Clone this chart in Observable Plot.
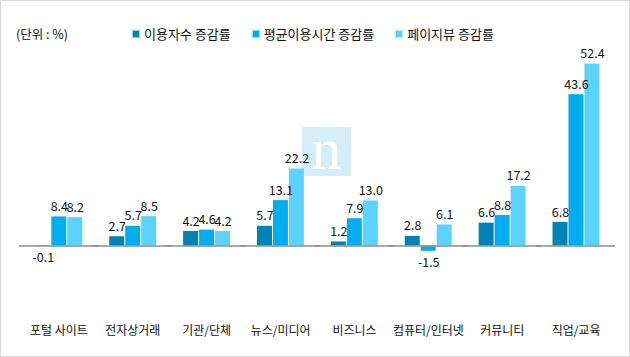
<!DOCTYPE html>
<html>
<head>
<meta charset="utf-8">
<script src="https://cdn.jsdelivr.net/npm/d3@7"></script>
<script src="https://cdn.jsdelivr.net/npm/@observablehq/plot@0.6"></script>
<style>
  html, body { margin: 0; padding: 0; background: #fff; }
  #wrap { position: relative; width: 630px; height: 357px; box-sizing: border-box; border: 1px solid #d9d9d9; overflow: hidden; font-family: "Noto Sans CJK KR", "Noto Sans", sans-serif; background: #fff; }
  #chart { position: absolute; left: -1px; top: -1px; }
  #unit { position: absolute; left: 15px; top: 23px; font-size: 12.5px; color: #111; line-height: 20px; }
  #legend { position: absolute; left: 131px; top: 23px; display: flex; gap: 21px; font-size: 13px; color: #111; line-height: 20px; }
  #legend .item { display: flex; align-items: center; gap: 4px; }
  #legend .sw { width: 6px; height: 6px; border: 1px solid rgba(255,255,255,0.6); outline: 1px solid rgba(0,0,0,0.06); }
  #mark { position: absolute; left: 301px; top: 126px; width: 49px; height: 49px; background: #d6eefa; color: #fff; font-family: "Liberation Serif", "DejaVu Serif", serif; font-size: 60px; line-height: 44px; text-align: center; }
</style>
</head>
<body>
<div id="wrap">
  <div id="mark">n</div>
  <div id="chart"></div>
  <div id="unit">(단위 : %)</div>
  <div id="legend"></div>
</div>
<script>
const categories = ["포털 사이트", "전자상거래", "기관/단체", "뉴스/미디어", "비즈니스", "컴퓨터/인터넷", "커뮤니티", "직업/교육"];
const series = ["이용자수 증감률", "평균이용시간 증감률", "페이지뷰 증감률"];
const usersGrowth = [-0.1, 2.7, 4.2, 5.7, 1.2, 2.8, 6.6, 6.8];
const timeGrowth = [8.4, 5.7, 4.6, 13.1, 7.9, -1.5, 8.8, 43.6];
const pageviewGrowth = [8.2, 8.5, 4.2, 22.2, 13.0, 6.1, 17.2, 52.4];
const colors = ["#0082b4", "#00aeef", "#5cd2ff"];

const valuesBySeries = [usersGrowth, timeGrowth, pageviewGrowth];
const rows = [];
categories.forEach((c, i) => {
  series.forEach((s, j) => rows.push({category: c, series: s, value: valuesBySeries[j][i]}));
});

const chart = Plot.plot({
  width: 630,
  height: 357,
  marginTop: 37.3,
  marginBottom: 76.2,
  marginLeft: 18.6,
  marginRight: 13.6,
  style: {fontFamily: "'Noto Sans CJK KR', 'Noto Sans', sans-serif", fontSize: "12px", color: "#111", background: "transparent", overflow: "visible"},
  fx: {domain: categories, paddingInner: 0.317, paddingOuter: 0.1585, label: null},
  x: {domain: series, paddingInner: 0.06, paddingOuter: 0.03, axis: null},
  y: {domain: [-10, 60], axis: null},
  color: {domain: series, range: colors},
  marks: [
    Plot.barY(rows, {fx: "category", x: "series", y: "value", fill: "series"}),
    Plot.ruleY([0], {stroke: "#8c8c8c", strokeWidth: 1.5, insetLeft: -14, insetRight: -14}),
    Plot.text(rows, {filter: d => d.value >= 0, fx: "category", x: "series", y: "value", text: d => d.value.toFixed(1), dy: -10, fontSize: 12.5, fill: "#111"}),
    Plot.text(rows, {filter: d => d.value < 0, fx: "category", x: "series", y: "value", text: d => d.value.toFixed(1), dy: 12, fontSize: 12.5, fill: "#111"}),
    Plot.axisFx({anchor: "bottom", tickSize: 0, tickPadding: 46, fontSize: 12, label: null})
  ]
});
document.getElementById("chart").appendChild(chart);

const legend = document.getElementById("legend");
series.forEach((s, j) => {
  const item = document.createElement("div");
  item.className = "item";
  const sw = document.createElement("span");
  sw.className = "sw";
  sw.style.background = colors[j];
  const t = document.createElement("span");
  t.textContent = s;
  item.appendChild(sw);
  item.appendChild(t);
  legend.appendChild(item);
});
</script>
</body>
</html>
